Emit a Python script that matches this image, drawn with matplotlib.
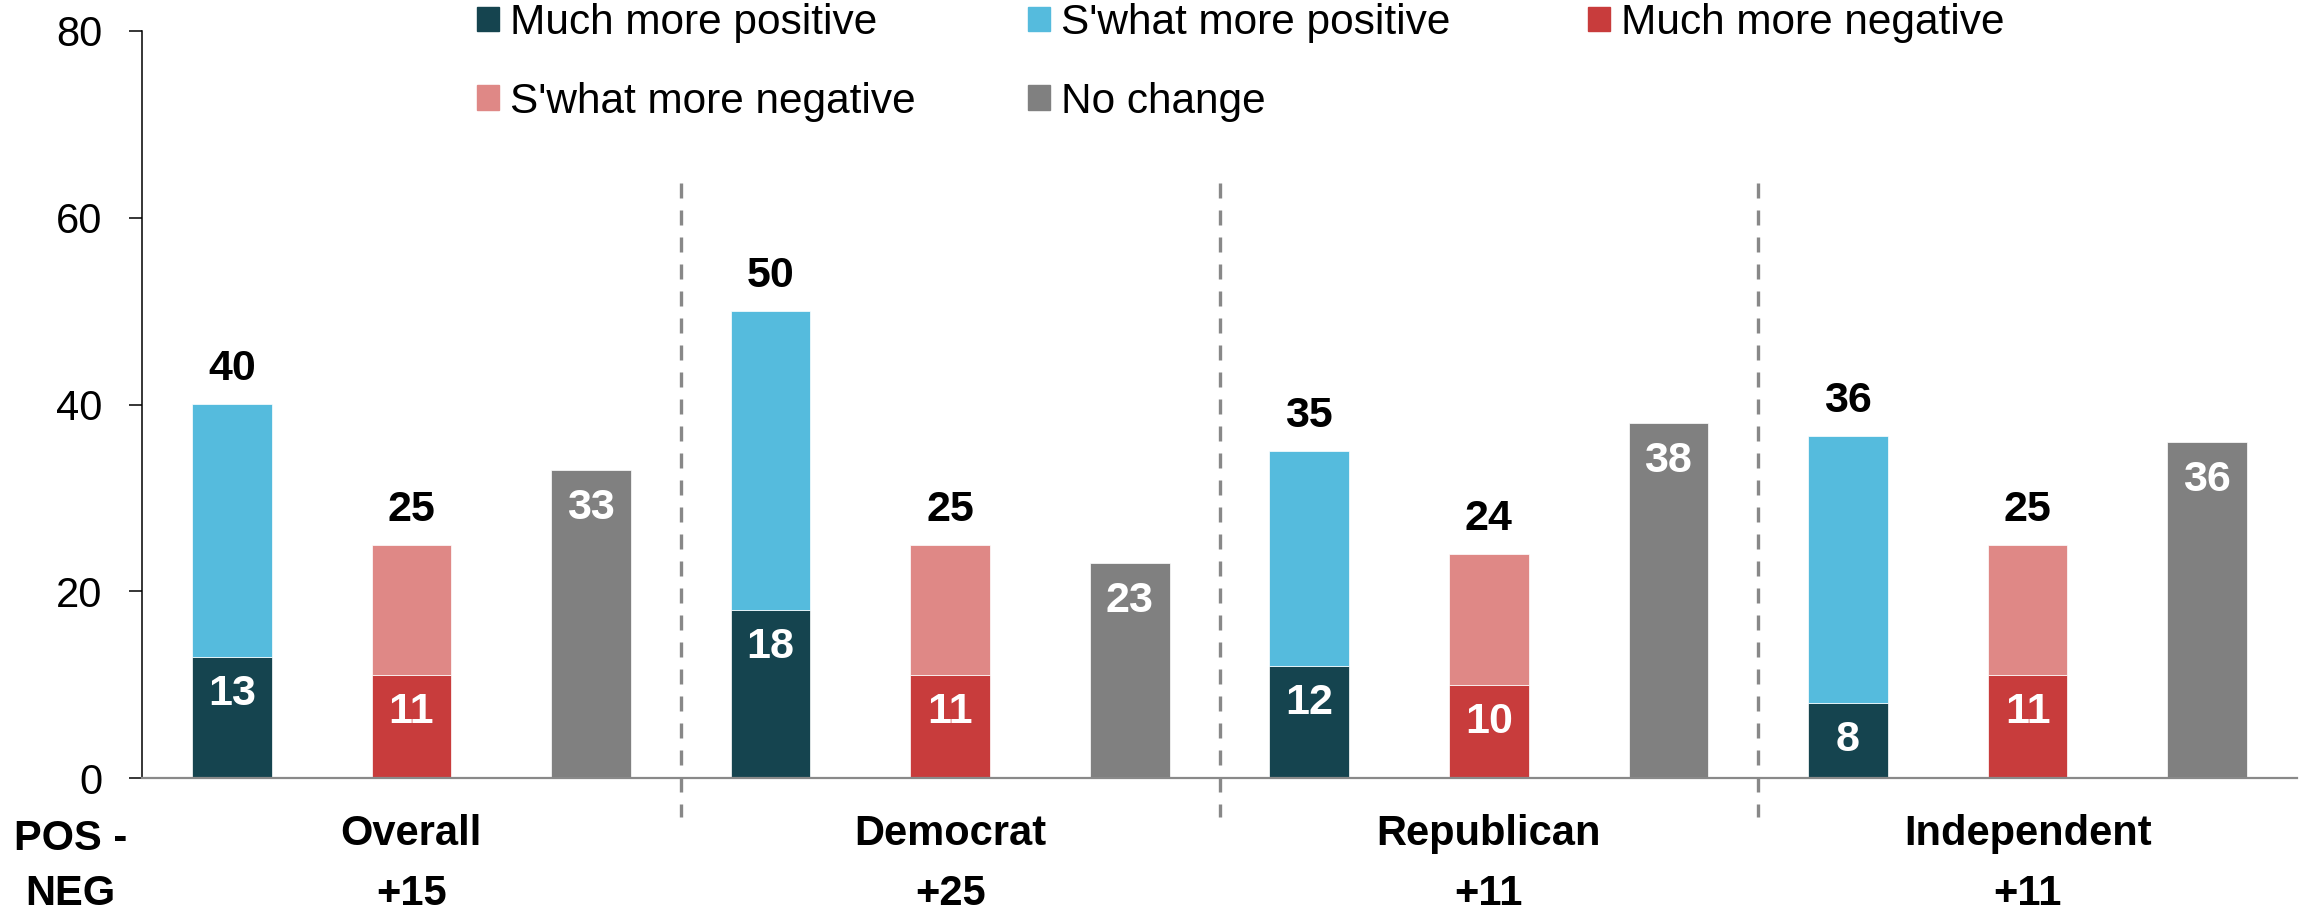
import numpy as np
import matplotlib
matplotlib.use('Agg')
import matplotlib.pyplot as plt
from matplotlib.patches import Patch

plt.rcParams['font.family'] = ['Liberation Sans', 'DejaVu Sans']

# values
groups = ["Overall", "Democrat", "Republican", "Independent"]
much_pos = [13, 18, 12, 8]
swhat_pos = [27, 32, 23, 28.6]
much_neg = [11, 11, 10, 11]
swhat_neg = [14, 14, 14, 14]
no_change = [33, 23, 38, 36]
pos_total = [40, 50, 35, 36]
neg_total = [25, 25, 24, 25]

c_much_pos = "#15444F"
c_swhat_pos = "#55BBDD"
c_much_neg = "#C83C3C"
c_swhat_neg = "#DF8886"
c_none = "#808080"

fig = plt.figure(figsize=(23.06, 9.10), dpi=100)
ax = fig.add_axes([142 / 2306, 132 / 910, 2155 / 2306, 747 / 910])

x = np.arange(len(groups)) * 3
w = 0.444
kw = dict(width=w, edgecolor="white", linewidth=0.5)
ax.bar(x, much_pos, color=c_much_pos, **kw)
ax.bar(x, swhat_pos, bottom=much_pos, color=c_swhat_pos, **kw)
ax.bar(x + 1, much_neg, color=c_much_neg, **kw)
ax.bar(x + 1, swhat_neg, bottom=much_neg, color=c_swhat_neg, **kw)
ax.bar(x + 2, no_change, color=c_none, **kw)

fs_val = 31
px = 0.72  # points per pixel at dpi 100
for i in range(len(groups)):
    top_pos = much_pos[i] + swhat_pos[i]
    top_neg = much_neg[i] + swhat_neg[i]
    ax.annotate(str(pos_total[i]), (x[i], top_pos), xytext=(0, 35 * px),
                textcoords="offset points", ha="center", va="center",
                fontsize=fs_val, fontweight="bold")
    ax.annotate(str(neg_total[i]), (x[i] + 1, top_neg), xytext=(0, 35 * px),
                textcoords="offset points", ha="center", va="center",
                fontsize=fs_val, fontweight="bold")
    ax.annotate(str(much_pos[i]), (x[i], much_pos[i]), xytext=(0, -37 * px),
                textcoords="offset points", ha="center", va="center",
                fontsize=fs_val, fontweight="bold", color="white")
    ax.annotate(str(much_neg[i]), (x[i] + 1, much_neg[i]), xytext=(0, -37 * px),
                textcoords="offset points", ha="center", va="center",
                fontsize=fs_val, fontweight="bold", color="white")
    ax.annotate(str(no_change[i]), (x[i] + 2, no_change[i]), xytext=(0, -38 * px),
                textcoords="offset points", ha="center", va="center",
                fontsize=fs_val, fontweight="bold", color="white")

# group dividers
for b in x[1:] - 0.5:
    ax.plot([b, b], [63.7, -4.2], color="#888888", lw=2.4, dashes=(4.5, 3.6),
            clip_on=False, solid_capstyle="butt", dash_capstyle="butt")

# category names and net score under the axis
trans = ax.get_xaxis_transform()
fs_cat = 30
for i, g in enumerate(groups):
    net = pos_total[i] - neg_total[i]
    ax.annotate(g, (x[i] + 1, 0), xycoords=trans, xytext=(0, -67 * px),
                textcoords="offset points", ha="center", va="baseline",
                fontsize=fs_cat, fontweight="bold", annotation_clip=False)
    ax.annotate(f"+{net}", (x[i] + 1, 0), xycoords=trans, xytext=(0, -127 * px),
                textcoords="offset points", ha="center", va="baseline",
                fontsize=fs_cat, fontweight="bold", annotation_clip=False)
ax.annotate("POS -", (-0.9, 0), xycoords=trans, xytext=(0, -72 * px),
            textcoords="offset points", ha="center", va="baseline",
            fontsize=fs_cat, fontweight="bold", annotation_clip=False)
ax.annotate("NEG", (-0.9, 0), xycoords=trans, xytext=(0, -127 * px),
            textcoords="offset points", ha="center", va="baseline",
            fontsize=fs_cat, fontweight="bold", annotation_clip=False)

ax.set_xlim(-0.5, 11.5)
ax.set_ylim(0, 80)
ax.set_xticks([])
ax.set_yticks([0, 20, 40, 60, 80])
ax.tick_params(axis="y", direction="out", length=9.4, width=1.1, pad=19,
               labelsize=30, colors="black")
ax.spines["top"].set_visible(False)
ax.spines["right"].set_visible(False)
ax.spines["left"].set_linewidth(1.1)
ax.spines["left"].set_color("black")
ax.spines["bottom"].set_linewidth(1.6)
ax.spines["bottom"].set_color("#898989")

# legend: three columns placed one by one, rows read left to right
legend_cols = [
    [Patch(color=c_much_pos, label="Much more positive"),
     Patch(color=c_swhat_neg, label="S'what more negative")],
    [Patch(color=c_swhat_pos, label="S'what more positive"),
     Patch(color=c_none, label="No change")],
    [Patch(color=c_much_neg, label="Much more negative")],
]
col_left = [477, 1028, 1588]
for hs, left in zip(legend_cols, col_left):
    fig.legend(handles=hs, loc="upper left",
               bbox_to_anchor=(left / 2306, 1 - 3 / 910), frameon=False,
               fontsize=30.5, handlelength=0.53, handleheight=0.53,
               handletextpad=0.26, labelspacing=0.92,
               borderpad=0, borderaxespad=0)

fig.savefig("out.png", dpi=100)
